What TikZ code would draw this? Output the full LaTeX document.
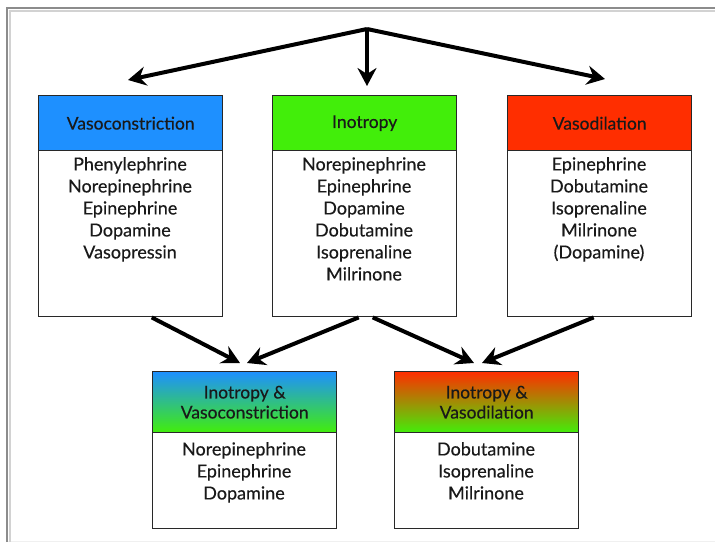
\documentclass[tikz,border=0pt]{standalone}
\usepackage{fontspec}
\setmainfont{Lato}[FakeBold=0.3]
\usetikzlibrary{arrows.meta,calc}
\definecolor{vcblue}{RGB}{30,144,255}
\definecolor{inogreen}{RGB}{66,238,10}
\definecolor{vdred}{RGB}{255,46,0}
\definecolor{boxline}{RGB}{40,40,40}
\definecolor{txt}{RGB}{25,25,25}
\definecolor{framegray}{RGB}{140,140,140}
\begin{document}
\begin{tikzpicture}[x=1pt,y=-1pt,
  boxframe/.style={draw=boxline, line width=1.4pt, anchor=north west, inner sep=0pt,
    minimum width=184pt},
  header/.style={boxframe, text=txt, font=\fontsize{17.5}{20}\selectfont, align=center},
  body/.style={anchor=north, inner sep=0pt, text=txt, align=center,
    font=\fontsize{18}{22}\selectfont},
  bigarrow/.style={line width=4pt, -{Stealth[length=18pt,width=19pt,inset=6pt]}}]
\useasboundingbox (0,0) rectangle (715,542);
\fill[white] (0,0) rectangle (715,542);
% outer frame
\draw[gray!12, line width=1pt] (7,541.5) -- (715,541.5);
\draw[gray!35, line width=2pt] (10,542) -- (10,11) -- (715,11);
\draw[framegray, line width=2.5pt] (7,542) -- (7,8) -- (715,8);

% top row boxes
\node[boxframe, minimum height=221pt] (vc) at (38,95) {};
\node[header, fill=vcblue, minimum height=55pt] (vch) at (38,95) {Vasoconstriction};
\node[body] (vcb) at (130,157) {Phenylephrine\\Norepinephrine\\Epinephrine\\Dopamine\\Vasopressin};

\node[boxframe, minimum height=221pt] (ino) at (272,95) {};
\node[header, fill=inogreen, minimum height=55pt] (inoh) at (272,95) {Inotropy};
\node[body] (inob) at (364,157) {Norepinephrine\\Epinephrine\\Dopamine\\Dobutamine\\Isoprenaline\\Milrinone};

\node[boxframe, minimum height=221pt] (vd) at (507,95) {};
\node[header, fill=vdred, minimum height=55pt] (vdh) at (507,95) {Vasodilation};
\node[body] (vdb) at (599,157) {Epinephrine\\Dobutamine\\Isoprenaline\\Milrinone\\(Dopamine)};

% bottom row boxes
\node[boxframe, minimum height=157pt] (ivc) at (152,371) {};
\node[header, top color=vcblue, bottom color=inogreen, minimum height=61pt] (ivch) at (152,371) {Inotropy \&\\Vasoconstriction};
\node[body] (ivcb) at (244,442) {Norepinephrine\\Epinephrine\\Dopamine};

\node[boxframe, minimum height=157pt] (ivd) at (394,371) {};
\node[header, top color=vdred, bottom color=inogreen, minimum height=61pt] (ivdh) at (394,371) {Inotropy \&\\Vasodilation};
\node[body] (ivdb) at (486,442) {Dobutamine\\Isoprenaline\\Milrinone};

% arrows from the top
\coordinate (apex) at (367,29);
\coordinate (tipvc) at (128,80);
\coordinate (tipino) at (367,86);
\coordinate (tipvd) at (605,79);
\draw[bigarrow] (apex) -- (tipvc);
\draw[bigarrow] (apex) -- (tipino);
\draw[bigarrow] (apex) -- (tipvd);

% arrows to the combined boxes
\coordinate (tipivcl) at (240,363);
\coordinate (tipivcr) at (247,363);
\coordinate (tipivdl) at (474,363);
\coordinate (tipivdr) at (482,363);
\draw[bigarrow] ($(vc.south)+(21,0)$) -- (tipivcl);
\draw[bigarrow] ($(ino.south)+(-6,0)$) -- (tipivcr);
\draw[bigarrow] ($(ino.south)+(8,0)$) -- (tipivdl);
\draw[bigarrow] ($(vd.south)+(-6,0)$) -- (tipivdr);
\end{tikzpicture}
\end{document}
